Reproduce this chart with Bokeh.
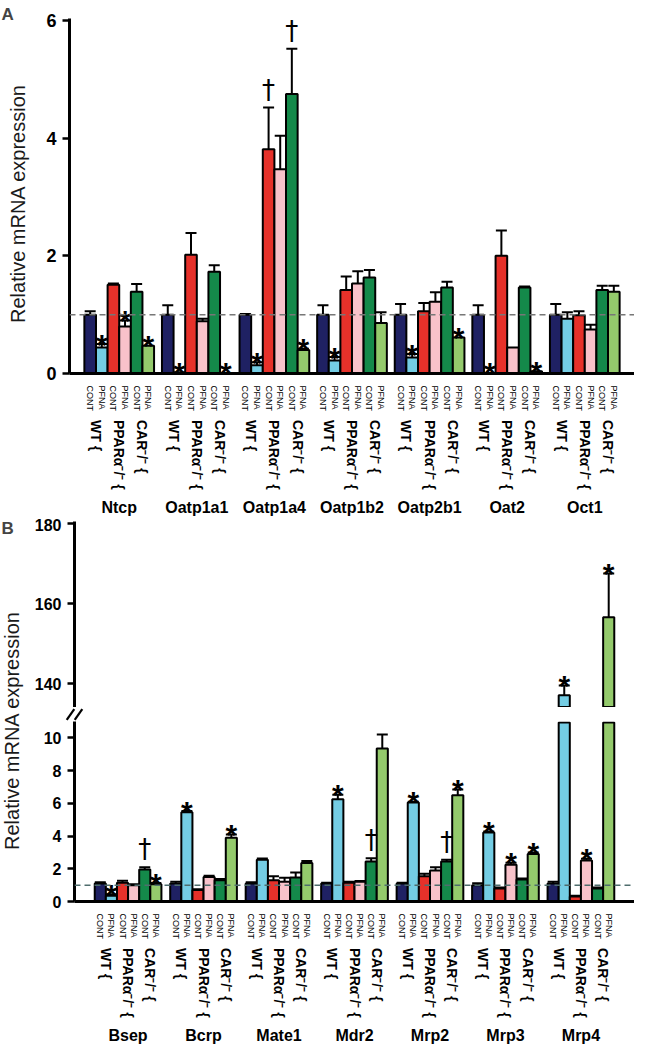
import numpy as np
from bokeh.plotting import figure
from bokeh.models import (FactorRange, ColumnDataSource, Whisker, TeeHead, Span,
                          Label, FixedTicker, Range1d)
from bokeh.layouts import column, row
from bokeh.embed import file_html
from bokeh.resources import INLINE
from bokeh.core.properties import value

FONT = "Liberation Sans"

# ---------------- data ----------------
genotypes = ["WT {", "PPARα⁻/⁻ {", "CAR⁻/⁻ {"]
treatments = ["CONT", "PFNA"]
bar_colors = ["#1f2163", "#74cde4", "#e6312a", "#f8c2ca", "#14894a", "#94ca6c"]

genes_a = ["Ntcp", "Oatp1a1", "Oatp1a4", "Oatp1b2", "Oatp2b1", "Oat2", "Oct1"]
means_a = [
    [1.00, 0.44, 1.51, 0.80, 1.39, 0.47],
    [1.00, 0.02, 2.02, 0.89, 1.73, 0.01],
    [1.00, 0.14, 3.81, 3.47, 4.75, 0.40],
    [1.00, 0.22, 1.42, 1.53, 1.63, 0.86],
    [1.00, 0.27, 1.06, 1.22, 1.46, 0.61],
    [1.00, 0.01, 2.00, 0.44, 1.46, 0.04],
    [1.00, 0.93, 0.99, 0.75, 1.42, 1.39],
]
errs_a = [
    [0.06, 0.06, 0.02, 0.10, 0.13, 0.00],
    [0.16, 0.00, 0.37, 0.04, 0.11, 0.00],
    [0.01, 0.05, 0.71, 0.57, 0.77, 0.02],
    [0.16, 0.06, 0.23, 0.21, 0.13, 0.18],
    [0.18, 0.06, 0.14, 0.16, 0.10, 0.00],
    [0.16, 0.00, 0.43, 0.00, 0.02, 0.00],
    [0.18, 0.11, 0.07, 0.08, 0.07, 0.10],
]
marks_a = [
    ["", "*", "", "*", "", "*"],
    ["", "*", "", "", "", "*"],
    ["", "*", "†", "", "†", "*"],
    ["", "*", "", "", "", ""],
    ["", "*", "", "", "", "*"],
    ["", "*", "", "", "", "*"],
    ["", "", "", "", "", ""],
]

genes_b = ["Bsep", "Bcrp", "Mate1", "Mdr2", "Mrp2", "Mrp3", "Mrp4"]
means_b = [
    [1.10, 0.35, 1.15, 1.00, 1.95, 1.05],
    [1.10, 5.45, 0.70, 1.50, 1.30, 3.90],
    [1.10, 2.55, 1.30, 1.20, 1.47, 2.35],
    [1.10, 6.25, 1.15, 1.20, 2.45, 9.35],
    [1.10, 6.05, 1.55, 1.90, 2.45, 6.50],
    [1.00, 4.22, 0.80, 2.25, 1.35, 2.90],
    [1.10, 137.1, 0.30, 2.50, 0.80, 156.6],
]
errs_b = [
    [0.08, 0.10, 0.12, 0.05, 0.15, 0.08],
    [0.10, 0.08, 0.05, 0.08, 0.08, 0.20],
    [0.08, 0.08, 0.25, 0.25, 0.30, 0.12],
    [0.05, 0.28, 0.05, 0.05, 0.20, 0.85],
    [0.05, 0.05, 0.15, 0.20, 0.10, 0.35],
    [0.12, 0.06, 0.05, 0.12, 0.05, 0.10],
    [0.10, 2.40, 0.05, 0.12, 0.05, 11.0],
]
marks_b = [
    ["", "*", "", "", "†", "*"],
    ["", "*", "", "", "", "*"],
    ["", "", "", "", "", ""],
    ["", "*", "", "", "†", ""],
    ["", "*", "", "", "†", "*"],
    ["", "*", "", "*", "", "*"],
    ["", "*", "", "*", "", "*"],
]

yticks_a = [0, 2, 4, 6]
yticks_b_low = [0, 2, 4, 6, 8, 10]
yticks_b_high = [140, 160, 180]
ylabel = "Relative mRNA expression"


def build(genes, means, errs, marks):
    d = dict(x=[], mean=[], err=[], upper=[], mark=[], color=[])
    for gi, g in enumerate(genes):
        k = 0
        for gt in genotypes:
            for t in treatments:
                d["x"].append((g, gt, t))
                d["mean"].append(means[gi][k])
                d["err"].append(errs[gi][k])
                d["upper"].append(means[gi][k] + errs[gi][k])
                d["mark"].append(marks[gi][k])
                d["color"].append(bar_colors[k])
                k += 1
    return d


def subset(d, cond):
    idx = [i for i in range(len(d["x"])) if cond(i)]
    return {k: [v[i] for i in idx] for k, v in d.items()}


def style_common(p):
    p.outline_line_color = None
    p.xgrid.grid_line_color = None
    p.ygrid.grid_line_color = None
    p.background_fill_color = None
    p.border_fill_color = None


def style_y(p, size):
    ax = p.yaxis[0]
    ax.axis_line_width = 3
    ax.major_tick_in = 0
    ax.major_tick_out = 7
    ax.major_tick_line_width = 2.5
    ax.minor_tick_line_color = None
    ax.major_label_text_font = FONT
    ax.major_label_text_font_style = "bold"
    ax.major_label_text_font_size = size
    ax.major_label_text_color = "black"
    ax.major_label_standoff = 6


def style_x(p):
    ax = p.xaxis[0]
    ax.axis_line_width = 3
    ax.major_tick_line_color = None
    ax.minor_tick_line_color = None
    ax.separator_line_color = None
    ax.major_label_orientation = "vertical"
    ax.subgroup_label_orientation = "vertical"
    ax.group_label_orientation = "horizontal"
    ax.major_label_text_font = FONT
    ax.major_label_text_font_size = "9px"
    ax.major_label_text_color = "black"
    ax.major_label_standoff = 6
    ax.subgroup_text_font = FONT
    ax.subgroup_text_font_size = "14px"
    ax.subgroup_text_font_style = "bold"
    ax.subgroup_text_color = "black"
    ax.group_text_font = FONT
    ax.group_text_font_size = "16px"
    ax.group_text_font_style = "bold"
    ax.group_text_color = "black"


def add_bars(p, d, top_field="mean", bottom=0):
    src = ColumnDataSource(d)
    p.vbar(x="x", top=top_field, bottom=bottom, width=1.0, source=src,
           fill_color="color", line_color="black", line_width=2)


def add_err(p, d):
    e = subset(d, lambda i: d["err"][i] > 0)
    src = ColumnDataSource(e)
    p.add_layout(Whisker(source=src, base="x", lower="mean", upper="upper",
                         dimension="height", line_width=2, line_color="black",
                         lower_head=None,
                         upper_head=TeeHead(size=11, line_width=2, line_color="black")))


def add_marks(p, d):
    s = subset(d, lambda i: d["mark"][i] == "*")
    p.text(x="x", y="upper", text="mark", source=ColumnDataSource(s),
           text_font=value(FONT), text_font_size="30px", text_font_style="bold",
           text_align="center", text_baseline="alphabetic", y_offset=0,
           text_color="black")
    t = subset(d, lambda i: d["mark"][i] == "†")
    p.text(x="x", y="upper", text="mark", source=ColumnDataSource(t),
           text_font=value("DejaVu Sans"), text_font_size="26px",
           text_align="center", text_baseline="bottom", y_offset=-3,
           text_color="black")


def label_fig(w, h):
    f = figure(width=w, height=h, x_range=Range1d(0, w), y_range=Range1d(0, h),
               output_backend="svg", toolbar_location=None, x_axis_location=None,
               y_axis_location=None, min_border=0, frame_align=False)
    f.min_border_left = f.min_border_right = 0
    f.min_border_top = f.min_border_bottom = 0
    style_common(f)
    return f


# ---------------- panel A ----------------
HA = 518
data_a = build(genes_a, means_a, errs_a, marks_a)
xr_a = FactorRange(factors=data_a["x"], factor_padding=0, subgroup_padding=0,
                   group_padding=0.68, range_padding=1.28,
                   range_padding_units="absolute")
pa = figure(x_range=xr_a, y_range=Range1d(0, 6.034), width=598, height=HA,
            output_backend="svg", toolbar_location=None, frame_align=False,
            min_border_left=33, min_border_right=0, min_border_top=18,
            min_border_bottom=142)
style_common(pa)
style_y(pa, "18px")
style_x(pa)
pa.yaxis.ticker = FixedTicker(ticks=yticks_a)
add_bars(pa, data_a)
add_err(pa, data_a)
pa.add_layout(Span(location=1, dimension="width", line_color="#777777",
                   line_dash="6 4", line_width=1.5))
add_marks(pa, data_a)

la = label_fig(36, HA)
la.add_layout(Label(x=1, y=HA - 4, text="A", text_font=FONT, text_font_size="17px",
                    text_font_style="bold", text_baseline="top", text_align="left"))
la.add_layout(Label(x=17, y=HA - 203, text=ylabel, angle=np.pi / 2,
                    text_font=FONT, text_font_size="20px", text_color="#1a1a1a",
                    text_align="center", text_baseline="middle"))

# ---------------- panel B ----------------
data_b = build(genes_b, means_b, errs_b, marks_b)
xr_b = FactorRange(factors=data_b["x"], factor_padding=0, subgroup_padding=0,
                   group_padding=0.79, range_padding=1.82,
                   range_padding_units="absolute")

HI_LO, HI_HI = 134.0, 180.6
LO_HI = 11.0
WB = 606
AXIS_X = 46
H_TOP, H_BRK, H_BOT = 189, 14, 325

ptb = figure(x_range=xr_b, y_range=Range1d(HI_LO, HI_HI), width=WB, height=H_TOP,
             output_backend="svg", toolbar_location=None, x_axis_location=None,
             frame_align=False,
             min_border_left=AXIS_X, min_border_right=0, min_border_top=3,
             min_border_bottom=0)
style_common(ptb)
style_y(ptb, "16px")
ptb.yaxis.ticker = FixedTicker(ticks=yticks_b_high)
hi = subset(data_b, lambda i: data_b["mean"][i] > HI_LO)
add_bars(ptb, hi, bottom=HI_LO + 0.15)
add_err(ptb, hi)
add_marks(ptb, hi)

# axis-break marks ("//") drawn as two short slanted dashes across the axis
brk = label_fig(WB, H_BRK)
brk.scatter(x=[AXIS_X - 4, AXIS_X + 4], y=[H_BRK / 2, H_BRK / 2], marker="dash",
            size=13, angle=0.95, line_color="black", line_width=2.2)

pbb = figure(x_range=xr_b, y_range=Range1d(0, LO_HI), width=WB, height=H_BOT,
             output_backend="svg", toolbar_location=None, frame_align=False,
             min_border_left=AXIS_X, min_border_right=0, min_border_top=0,
             min_border_bottom=142)
style_common(pbb)
style_y(pbb, "16px")
style_x(pbb)
pbb.yaxis.ticker = FixedTicker(ticks=yticks_b_low)
low = dict(data_b)
low["clipped"] = list(np.minimum(np.array(data_b["mean"]), LO_HI - 0.06))
add_bars(pbb, low, top_field="clipped")
lo_err = subset(data_b, lambda i: data_b["upper"][i] < LO_HI)
add_err(pbb, lo_err)
pbb.add_layout(Span(location=1, dimension="width", line_color="#4f6d6d",
                    line_dash="6 4", line_width=1.5))
add_marks(pbb, lo_err)

HB = H_TOP + H_BRK + H_BOT
lb = label_fig(28, HB)
lb.add_layout(Label(x=1, y=HB, text="B", text_font=FONT, text_font_size="17px",
                    text_font_style="bold", text_baseline="top", text_align="left"))
lb.add_layout(Label(x=11, y=HB - 212, text=ylabel, angle=np.pi / 2,
                    text_font=FONT, text_font_size="20px", text_color="#1a1a1a",
                    text_align="center", text_baseline="middle"))

layout = column(row(la, pa), row(lb, column(ptb, brk, pbb)))
open("out.html", "w").write(file_html(layout, INLINE))
